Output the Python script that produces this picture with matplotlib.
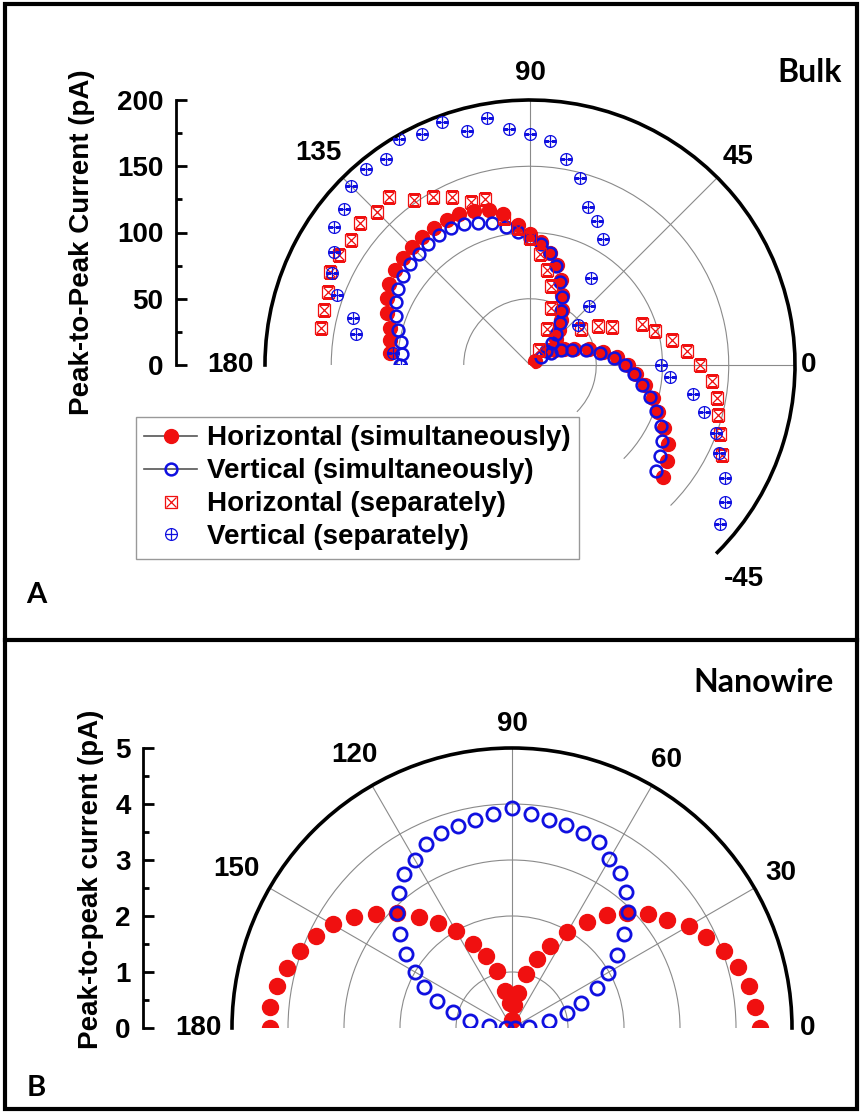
import numpy as np
import matplotlib
matplotlib.use('Agg')
import matplotlib.pyplot as plt
from matplotlib.lines import Line2D
from matplotlib.legend_handler import HandlerTuple
from matplotlib.ticker import MultipleLocator
import matplotlib.patches as mpatches

plt.rcParams['font.family'] = ['Liberation Sans', 'DejaVu Sans']

# ---------------- Panel A data (Bulk) ----------------
theta_h_sim = [175, 170, 165, 160, 155, 150, 145, 140, 135, 130, 125, 120, 115, 110, 105, 100,
               95, 90, 85, 80, 75, 70, 65, 60, 55, 50, 45, 40, 35, 30, 25, 20, 15, 10, 5, 0,
               -5, -10, -15, -20, -25, -30, -35, -40]
r_h_sim = [106, 107, 109, 115, 119, 122.5, 124.5, 125.5, 126, 126.5, 126.5, 126, 126, 124, 121, 116,
           106, 99, 93, 86, 78, 68, 58, 48, 41, 34, 28, 18, 5, 22, 28, 35, 46, 56, 66, 74,
           80, 88, 96, 103, 112, 120, 126, 131]

theta_v_sim = [180, 175, 170, 165, 160, 155, 150, 145, 140, 135, 130, 125, 120, 115, 110, 105, 100,
               95, 90, 85, 80, 75, 70, 65, 60, 55, 50, 45, 40, 35, 30, 25, 20, 15, 10, 5, 0,
               -5, -10, -15, -20, -25, -30, -35, -40]
r_v_sim = [98, 97, 99, 103, 108, 112, 115, 117, 118.5, 119, 119.5, 119.5, 119, 117, 114, 111, 106,
           101, 96, 92, 86, 77, 67, 57, 47, 39, 31, 24, 16, 10, 18, 26, 34, 44, 54, 64, 72,
           79, 86, 94, 101, 109, 115, 120, 124]

theta_h_sep = [170, 165, 160, 155, 150, 145, 140, 135, 130, 125, 120, 115, 110, 105, 100, 95, 90,
               85, 80, 75, 70, 65, 60, 35, 30, 25, 20, 15, 10, 5, 0, -5, -10, -15, -20, -25]
r_h_sep = [160, 161, 162, 166.5, 166.5, 165, 167, 163, 166, 152, 146, 140, 131, 130, 113, 104, 96,
           84, 73, 62, 46, 30, 13, 47, 59.5, 68, 90, 98, 109, 119, 128, 138, 143, 147, 153, 160]

theta_v_sep = [180, 175, 170, 165, 160, 155, 150, 145, 140, 135, 130, 125, 120, 115, 110, 105, 100,
               95, 90, 85, 80, 75, 70, 65, 60, 55, 45, 40, 0, -5, -10, -15, -20, -25, -30, -35, -40]
r_v_sep = [97, 104, 133, 138, 155, 165, 171, 181, 183, 191, 193, 190, 197, 192, 195, 183, 189,
           179, 174, 170, 158, 146, 127, 120, 110, 80, 63, 47, 99, 106, 125, 136, 149, 157, 170, 180, 187]

labels_A = ['Horizontal (simultaneously)', 'Vertical (simultaneously)',
            'Horizontal (separately)', 'Vertical (separately)']
theta_ticks_A = [-45, 0, 45, 90, 135, 180]
theta_labels_A = ['-45', '0', '45', '90', '135', '180']
r_ticks_A = [0, 50, 100, 150, 200]

# ---------------- Panel B data (Nanowire) ----------------
theta_B = [0, 5, 10, 15, 20, 25, 30, 35, 40, 45, 50, 55, 60, 65, 70, 75, 80, 85, 90,
           95, 100, 105, 110, 115, 120, 125, 130, 135, 140, 145, 150, 155, 160, 165, 170, 175, 180]
r_B_horizontal = [4.43, 4.36, 4.29, 4.18, 4.02, 3.83, 3.64, 3.37, 3.16, 2.90, 2.63, 2.32, 1.97, 1.62,
                  1.32, 0.99, 0.64, 0.42, 0.15, 0.45, 0.67, 1.05, 1.36, 1.65, 1.99, 2.29, 2.59, 2.90,
                  3.18, 3.45, 3.70, 3.87, 4.03, 4.16, 4.27, 4.33, 4.32]
r_B_vertical = [0.05, 0.30, 0.67, 1.01, 1.32, 1.67, 1.97, 2.28, 2.62, 2.93, 3.17, 3.37, 3.48, 3.67,
                3.70, 3.75, 3.77, 3.84, 3.92, 3.84, 3.77, 3.73, 3.70, 3.63, 3.46, 3.35, 3.14, 2.91,
                2.62, 2.30, 1.99, 1.74, 1.42, 1.09, 0.77, 0.42, 0.10]
theta_ticks_B = [0, 30, 60, 90, 120, 150, 180]
theta_labels_B = ['0', '30', '60', '90', '120', '150', '180']
r_ticks_B = [0, 1, 2, 3, 4, 5]

RED = '#f01010'
BLUE = '#1010e0'
GRID = '#8a8a8a'
FS = 20

W, H = 861, 1113
DPI = 100
fig = plt.figure(figsize=(W / DPI, H / DPI), dpi=DPI)
fig.patch.set_facecolor('white')


def place_polar(ax, rmax, cx, cy, rx, ry):
    """Move polar axes so the origin lands at pixel (cx, cy) (top-down) with radii rx, ry."""
    for _ in range(2):
        pos = ax.get_position()
        x0, y0, w, h = pos.x0 * W, pos.y0 * H, pos.width * W, pos.height * H
        c = ax.transData.transform((0.0, 0.0))
        pr = ax.transData.transform((0.0, rmax))
        pt = ax.transData.transform((np.pi / 2, rmax))
        a = (c[0] - x0) / w
        b = (c[1] - y0) / h
        kx = (pr[0] - c[0]) / w
        ky = (pt[1] - c[1]) / h
        nw = rx / kx
        nh = ry / ky
        nx0 = cx - a * nw
        ny0 = (H - cy) - b * nh
        ax.set_position([nx0 / W, ny0 / H, nw / W, nh / H])


def setup_polar(ax, tmin, tmax, rmax, rgrid, radial_lines, major_t, minor_t):
    ax.set_aspect('auto')
    ax.set_thetamin(tmin)
    ax.set_thetamax(tmax)
    ax.set_rlim(0, rmax)
    ax.set_yticks(rgrid)
    ax.set_yticklabels([])
    ax.tick_params(axis='y', length=0)
    ax.yaxis.grid(True, color=GRID, lw=0.8)
    ax.xaxis.grid(False)
    ax.set_xticks(np.deg2rad(major_t))
    ax.set_xticklabels([])
    ax.set_xticks(np.deg2rad(minor_t), minor=True)
    ax.tick_params(axis='x', which='major', direction='in', length=10, width=2, color='k')
    ax.tick_params(axis='x', which='minor', direction='in', length=6, width=1.8, color='k')
    for a in radial_lines:
        ax.plot([np.deg2rad(a)] * 2, [0, rmax], color=GRID, lw=0.8, zorder=0.5)
    ax.spines['polar'].set_linewidth(2.6)
    for s in ('start', 'end', 'inner'):
        ax.spines[s].set_color('none')
        ax.spines[s].set_linewidth(0)
    ax.patch.set_alpha(0)


def left_scale(x, ybot, ytop, lo, hi, major, minor, label, label_x, label_y):
    axl = fig.add_axes([x / W, 1 - ybot / H, 0.5 / W, (ybot - ytop) / H])
    axl.set_ylim(lo, hi)
    axl.set_yticks(major)
    axl.yaxis.set_minor_locator(MultipleLocator(minor))
    axl.set_xticks([])
    for s in ('top', 'right', 'bottom'):
        axl.spines[s].set_visible(False)
    axl.spines['left'].set_linewidth(2)
    axl.tick_params(axis='y', which='major', direction='in', length=8, width=2, pad=9,
                    labelsize=FS)
    axl.tick_params(axis='y', which='minor', direction='in', length=4, width=2)
    for t in axl.get_yticklabels():
        t.set_fontweight('bold')
    axl.patch.set_visible(False)
    fig.text(label_x / W, 1 - label_y / H, label, rotation=90, ha='center', va='center',
             fontsize=FS, fontweight='bold')
    return axl


# ---------------- Panel A ----------------
axA = fig.add_axes([0.3, 0.55, 0.6, 0.4], projection='polar')
setup_polar(axA, -45, 180, 200, [50, 100, 150], [0, 45, 90, 135],
            theta_ticks_A, [-22.5, 22.5, 67.5, 112.5, 157.5])

axA.plot(np.deg2rad(theta_h_sim), r_h_sim, 'o', ls='none', ms=10, mfc=RED, mec=RED, mew=1,
         zorder=3)
axA.plot(np.deg2rad(theta_v_sim), r_v_sim, 'o', ls='none', ms=8.5, mfc='none', mec=BLUE, mew=1.8,
         zorder=4)
axA.plot(np.deg2rad(theta_h_sep), r_h_sep, 's', ls='none', ms=8.5, mfc='none', mec=RED, mew=0.9,
         zorder=5)
axA.plot(np.deg2rad(theta_h_sep), r_h_sep, 'x', ls='none', ms=7.5, mec=RED, mew=0.9, zorder=5)
axA.plot(np.deg2rad(theta_v_sep), r_v_sep, 'o', ls='none', ms=8.5, mfc='none', mec=BLUE, mew=0.9,
         zorder=6)
axA.plot(np.deg2rad(theta_v_sep), r_v_sep, '+', ls='none', ms=8.5, mec=BLUE, mew=0.9, zorder=6)

label_r_A = {'-45': 1.143, '0': 1.05, '45': 1.11, '90': 1.10, '135': 1.13, '180': 1.13}
for a, lab in zip(theta_ticks_A, theta_labels_A):
    axA.text(np.deg2rad(a), 200 * label_r_A[lab], lab, ha='center', va='center',
             fontsize=FS, fontweight='bold', clip_on=False)

place_polar(axA, 200, 530, 365, 265, 265)

left_scale(176, 365, 100, 0, 200, r_ticks_A, 25, 'Peak-to-Peak Current (pA)', 82, 242)

handles = [
    Line2D([], [], color='#555555', lw=1.2, marker='o', ms=10, mfc=RED, mec=RED),
    Line2D([], [], color='#555555', lw=1.2, marker='o', ms=8.5, mfc='none', mec=BLUE, mew=1.8),
    (Line2D([], [], ls='none', marker='s', ms=8.5, mfc='none', mec=RED, mew=0.9),
     Line2D([], [], ls='none', marker='x', ms=7.5, mec=RED, mew=0.9)),
    (Line2D([], [], ls='none', marker='o', ms=8.5, mfc='none', mec=BLUE, mew=0.9),
     Line2D([], [], ls='none', marker='+', ms=8.5, mec=BLUE, mew=0.9)),
]
leg = fig.legend(handles, labels_A, loc='upper left', bbox_to_anchor=(136 / W, 1 - 417 / H),
                 handler_map={tuple: HandlerTuple(ndivide=1)},
                 prop={'weight': 'bold', 'size': FS}, handlelength=1.9, handletextpad=0.35,
                 labelspacing=0.25, borderpad=0.3, borderaxespad=0, fancybox=False,
                 framealpha=1, edgecolor='#999999')
leg.get_frame().set_linewidth(1.0)

fig.text(810 / W, 1 - 73 / H, 'Bulk', ha='center', va='center', fontsize=23,
         fontweight='bold', family=['Lato', 'DejaVu Sans'])
fig.text(36 / W, 1 - 595 / H, 'A', ha='center', va='center', fontsize=21,
         fontweight='bold', family=['Lato', 'DejaVu Sans'])

# ---------------- Panel B ----------------
axB = fig.add_axes([0.3, 0.05, 0.6, 0.3], projection='polar')
setup_polar(axB, 0, 180, 5, [1, 2, 3, 4], [30, 60, 90, 120, 150],
            theta_ticks_B, [15, 45, 75, 105, 135, 165])
axB.plot(np.deg2rad(theta_B), r_B_horizontal, 'o', ls='none', ms=11.5, mfc=RED, mec=RED, zorder=3)
axB.plot(np.deg2rad(theta_B), r_B_vertical, 'o', ls='none', ms=9.5, mfc='none', mec=BLUE,
         mew=2.0, zorder=4)

label_r_B = {'0': 1.055, '30': 1.11, '60': 1.107, '90': 1.086, '120': 1.125, '150': 1.136,
             '180': 1.12}
for a, lab in zip(theta_ticks_B, theta_labels_B):
    axB.text(np.deg2rad(a), 5 * label_r_B[lab], lab, ha='center', va='center',
             fontsize=FS, fontweight='bold', clip_on=False)

place_polar(axB, 5, 512, 1028, 280, 280)

left_scale(143, 1028, 748, 0, 5, r_ticks_B, 0.5, 'Peak-to-peak current (pA)', 91, 879)

fig.text(763 / W, 1 - 682 / H, 'Nanowire', ha='center', va='center', fontsize=23,
         fontweight='bold', family=['Lato', 'DejaVu Sans'])
fig.text(36 / W, 1 - 1088 / H, 'B', ha='center', va='center', fontsize=21,
         fontweight='bold', family=['Lato', 'DejaVu Sans'])

# ---------------- Panel frames ----------------
fig.add_artist(mpatches.Rectangle((5 / W, 4 / H), 852 / W, 1105 / H, transform=fig.transFigure,
                                  fill=False, lw=3, ec='black'))
fig.add_artist(Line2D([5 / W, 857 / W], [1 - 640 / H, 1 - 640 / H], transform=fig.transFigure,
                      lw=3, color='black'))

fig.savefig('out.png', dpi=DPI, facecolor='white')
